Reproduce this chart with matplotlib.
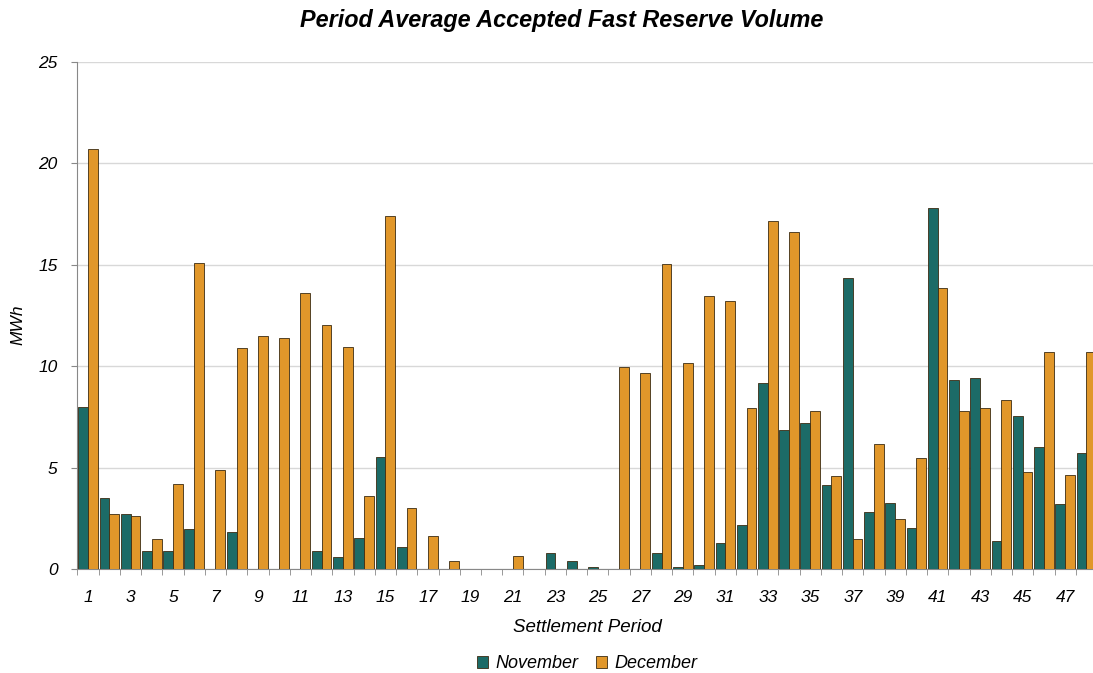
import matplotlib.pyplot as plt
import numpy as np

periods = list(range(1, 49))
november = [8.0, 3.5, 2.7, 0.9, 0.9, 1.95, 0.0, 1.8, 0.0, 0.0, 0.0, 0.9,
            0.6, 1.55, 5.5, 1.1, 0.0, 0.0, 0.0, 0.0, 0.0, 0.0, 0.8, 0.4,
            0.08, 0.0, 0.0, 0.8, 0.08, 0.2, 1.3, 2.15, 9.15, 6.85, 7.2, 4.15,
            14.35, 2.8, 3.25, 2.0, 17.8, 9.3, 9.4, 1.4, 7.55, 6.0, 3.2, 5.7]
december = [20.7, 2.7, 2.6, 1.5, 4.2, 15.1, 4.9, 10.9, 11.5, 11.4, 13.6, 12.05,
            10.95, 3.6, 17.4, 3.0, 1.65, 0.4, 0.0, 0.0, 0.63, 0.0, 0.0, 0.0,
            0.0, 9.95, 9.65, 15.05, 10.15, 13.45, 13.2, 7.95, 17.15, 16.6, 7.8, 4.6,
            1.5, 6.15, 2.45, 5.45, 13.85, 7.8, 7.95, 8.35, 4.8, 10.7, 4.65, 10.7]
tick_labels = [str(p) for p in periods if p % 2 == 1]

teal = '#1c6b67'
orange = '#e1972a'
edge = '#3b2b12'
font = ['Liberation Sans', 'DejaVu Sans']
W, H = 1093, 673


def plot_volume():
    fig = plt.figure(figsize=(W / 100, H / 100), dpi=100)
    ax = fig.add_axes([77 / W, 104 / H, 1020 / W, 507 / H])

    x = np.array(periods)
    w = 0.46
    ax.bar(x - w / 2, november, w, color=teal, edgecolor=edge, linewidth=0.6,
           label='November', zorder=3)
    ax.bar(x + w / 2, december, w, color=orange, edgecolor=edge, linewidth=0.6,
           label='December', zorder=3)

    ax.set_xlim(0.48, 48.5)
    ax.set_ylim(0, 25)
    ax.set_yticks([0, 5, 10, 15, 20, 25])
    ax.set_yticklabels(['0', '5', '10', '15', '20', '25'], fontstyle='italic',
                       family=font, fontsize=12.5)
    ax.set_xticks([p for p in periods if p % 2 == 1])
    ax.set_xticklabels(tick_labels, fontstyle='italic', family=font, fontsize=12.5)
    ax.set_xticks(np.arange(0.5, 49, 1), minor=True)
    ax.tick_params(axis='x', which='major', length=0, pad=15)
    ax.tick_params(axis='x', which='minor', length=4, color='#888888')
    ax.tick_params(axis='y', length=4, color='#888888', pad=10)

    ax.grid(axis='y', color='#d8d8d8', linewidth=1.0, zorder=0)
    for side in ['top', 'right']:
        ax.spines[side].set_visible(False)
    ax.spines['left'].set_color('#888888')
    ax.spines['bottom'].set_color('#888888')

    fig.text(18 / W, 1 - 325 / H, 'MWh', rotation=90, ha='center', va='center',
             fontstyle='italic', family=font, fontsize=12.5)
    fig.text(587 / W, 1 - 628 / H, 'Settlement Period', ha='center', va='center',
             fontstyle='italic', family=font, fontsize=13.5)
    fig.text(562 / W, 1 - 21 / H, 'Period Average Accepted Fast Reserve Volume',
             ha='center', va='center', fontweight='bold', fontstyle='italic',
             family=font, fontsize=16.8)

    fig.legend(loc='center', bbox_to_anchor=(587 / W, 1 - 664 / H), ncol=2,
               frameon=False, handlelength=0.6, handleheight=0.6,
               handletextpad=0.4, columnspacing=1.0,
               prop={'family': font, 'style': 'italic', 'size': 13})

    fig.savefig('out.png', dpi=100)


if __name__ == '__main__':
    plot_volume()
